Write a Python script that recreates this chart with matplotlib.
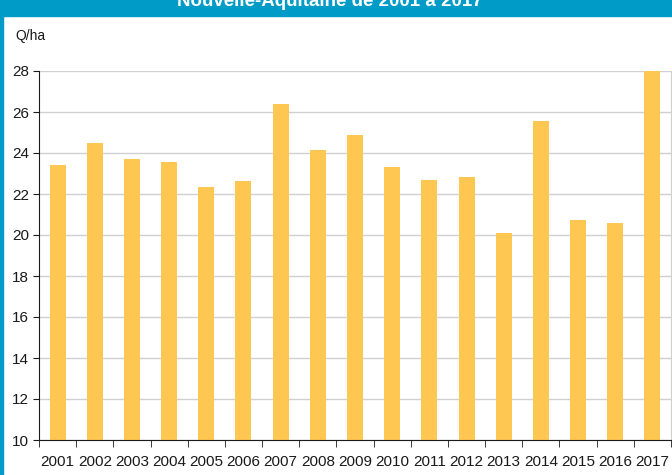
import matplotlib.pyplot as plt
from matplotlib.patches import Rectangle

plt.rcParams['font.family'] = ['Liberation Sans', 'DejaVu Sans']

years = ['2001', '2002', '2003', '2004', '2005', '2006', '2007', '2008', '2009',
         '2010', '2011', '2012', '2013', '2014', '2015', '2016', '2017']
rendement = [23.4, 24.5, 23.7, 23.55, 22.35, 22.65, 26.4, 24.15, 24.9,
             23.3, 22.7, 22.85, 20.1, 25.55, 20.75, 20.6, 28.0]

W, H = 672, 475
fig = plt.figure(figsize=(W / 100, H / 100), dpi=100)
ax = fig.add_axes([39 / W, (H - 440) / H, 632 / W, (440 - 71) / H])

x = list(range(len(years)))
ax.bar(x, rendement, width=0.43, color='#fec752', zorder=2)

ax.set_xlim(-0.5, len(years) - 0.5)
ax.set_ylim(10, 28)
ax.set_yticks(range(10, 29, 2))
ax.set_xticks(x)
ax.set_xticklabels(years, fontsize=11, color='#1a1a1a')
ax.tick_params(axis='y', labelsize=11, colors='#1a1a1a', length=4, pad=3)
ax.tick_params(axis='x', length=0, pad=11)
# tick marks between categories
ax.set_xticks([i - 0.5 for i in range(len(years) + 1)], minor=True)
ax.tick_params(axis='x', which='minor', length=5, color='#1a1a1a', direction='out')

ax.grid(axis='y', color='#d0d0d0', linewidth=1, zorder=0)
ax.axhline(28, color='#999999', linewidth=1.2, zorder=1)
ax.spines['top'].set_visible(False)
ax.spines['right'].set_color('#d0d0d0')
ax.spines['left'].set_color('#1a1a1a')
ax.spines['bottom'].set_color('#1a1a1a')

fig.text(15 / W, 1 - 36 / H, 'Q/ha', fontsize=10, color='#1a1a1a', va='center')

# blue header band and left border
fig.patches.append(Rectangle((0, 1 - 16 / H), 1, 16 / H, transform=fig.transFigure,
                             color='#009bc6', zorder=5))
fig.patches.append(Rectangle((0, 0), 2.5 / W, 1, transform=fig.transFigure,
                             color='#009bc6', zorder=5))
fig.text(330 / W, 1 - 6 / H, 'Nouvelle-Aquitaine de 2001 à 2017', fontsize=13.5,
         fontweight='bold', color='white', ha='center', va='baseline', zorder=6)

fig.savefig('out.png', dpi=100)
